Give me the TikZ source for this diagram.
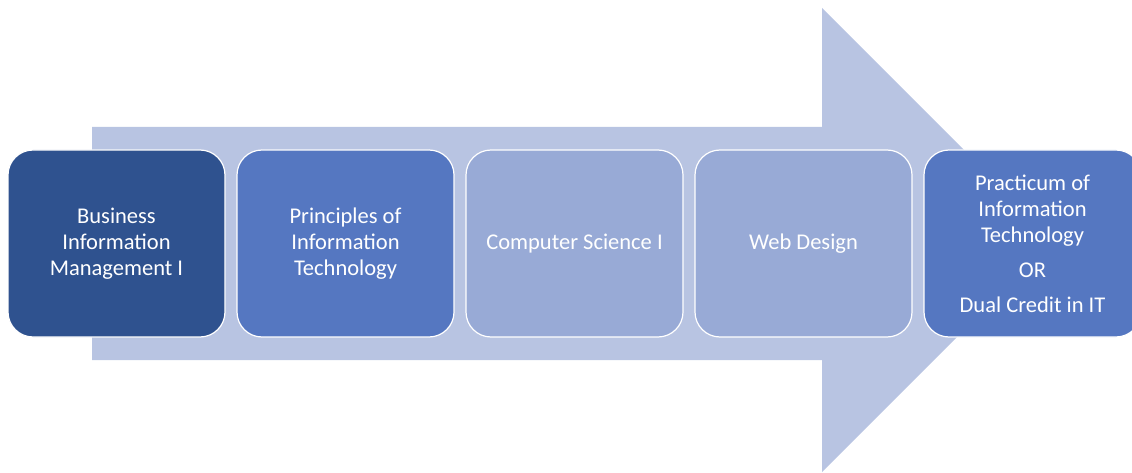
\documentclass[tikz,border=0pt]{standalone}
\usepackage{fontspec}
\setmainfont{Carlito}
\usepackage{xcolor}
\usepackage{tikz}

\definecolor{arrowblue}{RGB}{184,196,226}
\definecolor{darkblue}{RGB}{47,82,143}
\definecolor{midblue}{RGB}{85,119,193}
\definecolor{paleblue}{RGB}{152,170,214}

\tikzset{
    course/.style={draw=white, line width=1.2pt, rounded corners=25pt,
        minimum width=217pt, minimum height=187pt, text=white, align=center,
        font=\fontsize{22.5pt}{26pt}\selectfont, inner sep=0pt}
}

\begin{document}
\begin{tikzpicture}[x=1pt, y=-1pt]
                \useasboundingbox (0,0) rectangle (1132,473);

                % big arrow behind the courses
                \fill[arrowblue] (92,127) -- (822,127) -- (822,8) -- (1054,240)
                    -- (822,472) -- (822,360) -- (92,360) -- cycle;

                \node[course, fill=darkblue] (BIM) at (116.5,243.5) {Business\\Information\\Management I};
                \node[course, fill=midblue] (PIT) at (345.5,243.5) {Principles of\\Information\\Technology};
                \node[course, fill=paleblue] (CS) at (574.5,243.5) {Computer Science I};
                \node[course, fill=paleblue] (WD) at (803.5,243.5) {Web Design};
                \node[course, fill=midblue] (PRAC) at (1032.5,243.5) {Practicum of\\Information\\Technology\\[9pt]OR\\[9pt]Dual Credit in IT};
            \end{tikzpicture}
\end{document}
